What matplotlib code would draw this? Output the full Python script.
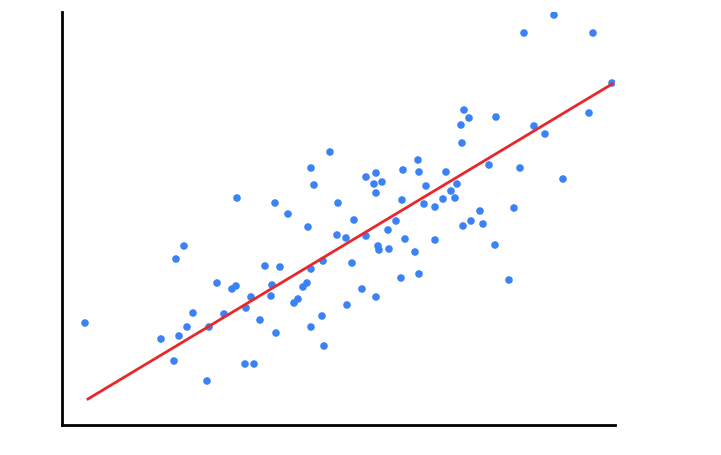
import matplotlib
matplotlib.use('Agg')
import numpy as np
import matplotlib.pyplot as plt

# values (x right, y up, arbitrary units)
x_vals = [23, 99, 112, 114, 122, 117, 125, 131, 145, 147, 155, 162, 170, 174, 175,
          184, 183, 192, 189, 198, 203, 209, 210, 213, 214, 218, 226, 232, 236, 241,
          245, 246, 249, 249, 249, 252, 260, 261, 262, 268, 275, 276, 284, 285, 290,
          292, 300, 304, 304, 312, 314, 314, 314, 316, 317, 320, 326, 327, 334, 339,
          340, 341, 343, 353, 356, 357, 357, 362, 364, 373, 373, 381, 384, 389, 393,
          395, 399, 400, 401, 402, 407, 409, 418, 421, 427, 433, 434, 447, 452, 458,
          462, 472, 483, 492, 501, 527, 531, 550]
y_vals = [102, 86, 64, 166, 179, 89, 98, 112, 44, 98, 142, 111, 136, 139, 227,
          117, 61, 61, 128, 105, 159, 129, 140, 222, 92, 158, 211, 122, 126, 138,
          142, 198, 257, 98, 156, 240, 109, 164, 79, 273, 190, 222, 187, 120, 162,
          205, 136, 248, 189, 241, 252, 232, 128, 179, 175, 243, 195, 176, 204, 147,
          225, 255, 186, 173, 265, 151, 253, 221, 239, 218, 185, 226, 253, 234, 227,
          241, 300, 282, 199, 315, 307, 204, 214, 201, 260, 180, 308, 145, 217, 257,
          392, 299, 291, 410, 246, 312, 392, 342]

# fitted line (intercept, slope) matching the reference
fit_coef = [10.4, 0.601]

fig = plt.figure(figsize=(7.21, 4.55), dpi=100)
ax = fig.add_axes([62 / 721, 30 / 455, 553 / 721, 413 / 455])

ax.scatter(x_vals, y_vals, s=30, color='#3b82f6', edgecolors='none', zorder=2)

xs = np.array([26, max(x_vals)])
ax.plot(xs, fit_coef[0] + fit_coef[1] * xs, color='#e8272a', lw=2, zorder=3)

ax.set_xlim(0, 553)
ax.set_ylim(0, 413)
ax.set_xticks([])
ax.set_yticks([])
for side in ['top', 'right']:
    ax.spines[side].set_visible(False)
for side in ['left', 'bottom']:
    ax.spines[side].set_linewidth(2)

plt.savefig('out.png', dpi=100)
plt.close()
